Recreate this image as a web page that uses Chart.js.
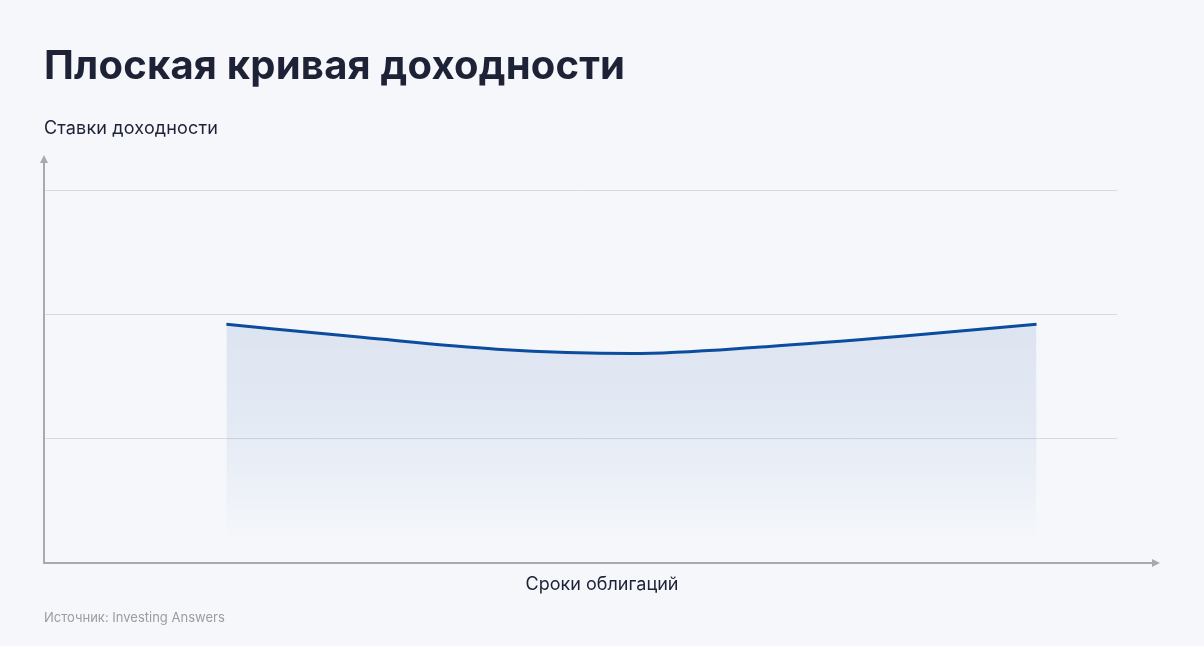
<!DOCTYPE html>
<html lang="ru">
<head>
<meta charset="utf-8">
<title>Плоская кривая доходности</title>
<script src="https://cdn.jsdelivr.net/npm/chart.js@4/dist/chart.umd.min.js"></script>
<style>
  html, body { margin: 0; padding: 0; }
  body {
    width: 1204px; height: 646px; overflow: hidden;
    background: #f5f7fb;
    font-family: Inter, "Noto Sans", sans-serif;
    position: relative;
  }
  #wrap { position: absolute; left: 0; top: 0; width: 1204px; height: 646px; }
  .title {
    position: absolute; left: 44px; top: 40px; margin: 0;
    font-size: 40px; font-weight: 700; color: #1e2236; letter-spacing: 0.2px;
  }
  .ylabel { position: absolute; left: 44px; top: 117px; font-size: 18px; color: #1e2236; letter-spacing: 0.15px; }
  .xlabel { position: absolute; left: 0; width: 1204px; text-align: center; top: 573px; font-size: 18px; color: #1e2236; }
  .source { position: absolute; left: 44px; top: 609px; font-size: 13px; color: #9a9ca3; }
</style>
</head>
<body>
<div id="wrap"><canvas id="chart" width="1204" height="646"></canvas></div>
<h1 class="title">Плоская кривая доходности</h1>
<div class="ylabel">Ставки доходности</div>
<div class="xlabel">Сроки облигаций</div>
<div class="source">Источник: Investing Answers</div>

<script>
// maturity positions (arbitrary units on the x axis) and yields
const maturities = [1.7, 2.96, 4.22, 5.48, 6.73, 7.99, 9.25];
const yields = [1.92, 1.815, 1.72, 1.685, 1.74, 1.823, 1.92];
const gridValues = [1, 2, 3];

// arrows for both axes, drawn from the scales
const axisArrows = {
    id: 'axisArrows',
    afterDraw(chart) {
        const ctx = chart.ctx;
        const x = chart.scales.x, y = chart.scales.y;
        const x0 = x.left, y0 = y.getPixelForValue(0);
        const yTop = y.top - 35, xEnd = x.right + 43;
        ctx.save();
        ctx.strokeStyle = '#aaaaaa';
        ctx.fillStyle = '#aaaaaa';
        ctx.lineWidth = 2;
        ctx.beginPath();
        ctx.moveTo(x0, yTop + 6);
        ctx.lineTo(x0, y0);
        ctx.lineTo(xEnd - 6, y0);
        ctx.stroke();
        ctx.beginPath();
        ctx.moveTo(x0, yTop);
        ctx.lineTo(x0 - 4, yTop + 8);
        ctx.lineTo(x0 + 4, yTop + 8);
        ctx.closePath();
        ctx.fill();
        ctx.beginPath();
        ctx.moveTo(xEnd, y0);
        ctx.lineTo(xEnd - 8, y0 - 4);
        ctx.lineTo(xEnd - 8, y0 + 4);
        ctx.closePath();
        ctx.fill();
        ctx.restore();
    }
};

const ctx = document.getElementById('chart').getContext('2d');
new Chart(ctx, {
    type: 'line',
    data: {
        datasets: [{
            data: maturities.map((m, i) => ({ x: m, y: yields[i] })),
            borderColor: '#0b4c9f',
            borderWidth: 3,
            pointRadius: 0,
            cubicInterpolationMode: 'monotone',
            fill: { value: 0.18 },
            backgroundColor: function(context) {
                const area = context.chart.chartArea;
                if (!area) return 'rgba(0,0,0,0)';
                const ys = context.chart.scales.y;
                const g = context.chart.ctx.createLinearGradient(0, ys.getPixelForValue(1.95), 0, ys.getPixelForValue(0.18));
                g.addColorStop(0, 'rgba(20, 80, 160, 0.11)');
                g.addColorStop(0.5, 'rgba(20, 80, 160, 0.07)');
                g.addColorStop(1, 'rgba(20, 80, 160, 0.0)');
                return g;
            }
        }]
    },
    options: {
        responsive: false,
        animation: false,
        layout: { padding: { left: 44, right: 87, top: 190, bottom: 75 } },
        plugins: { legend: { display: false }, tooltip: { enabled: false } },
        scales: {
            x: {
                type: 'linear', min: 0, max: 10,
                ticks: { display: false },
                grid: { display: false },
                border: { display: false }
            },
            y: {
                min: 0, max: 3,
                afterBuildTicks: axis => { axis.ticks = gridValues.map(v => ({ value: v })); },
                ticks: { display: false },
                grid: { color: '#d6dae1', lineWidth: 1, drawTicks: false },
                border: { display: false }
            }
        }
    },
    plugins: [axisArrows]
});
</script>
</body>
</html>
